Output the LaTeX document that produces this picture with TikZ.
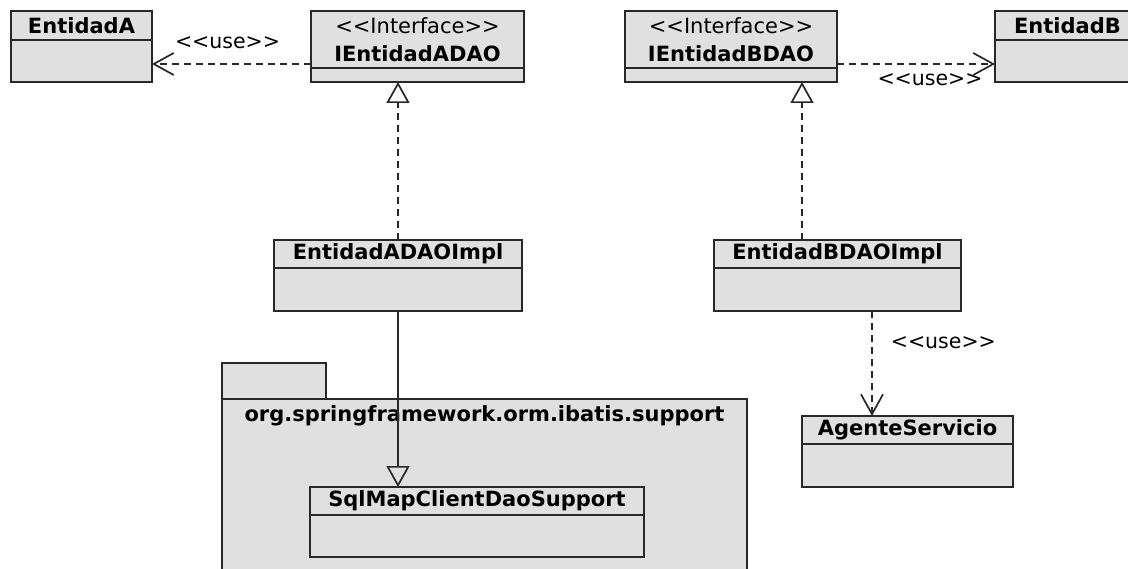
\documentclass[tikz,border=0pt]{standalone}
\usepackage{fontspec}
\setmainfont{DejaVu Sans}
\usetikzlibrary{arrows.meta,positioning}

\definecolor{umlfill}{RGB}{224,224,224}
\definecolor{umlline}{RGB}{40,40,40}
\newcommand{\umlstereo}[1]{<\kern0pt<#1>\kern0pt>}

\tikzset{
    umlhead/.style={draw=umlline, fill=umlfill, line width=1.7pt, outer sep=0pt, inner sep=0pt,
        font=\bfseries\fontsize{21}{28}\selectfont, align=center},
    umlbody/.style={draw=umlline, fill=umlfill, line width=1.7pt, outer sep=0pt, inner sep=0pt},
    umllabel/.style={inner sep=0pt, font=\fontsize{20.5}{24}\selectfont},
    usedep/.style={draw=umlline, line width=1.7pt, dash pattern=on 7pt off 5pt,
        -{Straight Barb[length=20pt, width=22pt, line width=1.7pt]}},
    realize/.style={draw=umlline, line width=1.7pt, dash pattern=on 7pt off 5pt,
        -{Triangle[open, length=21pt, width=23pt, line width=1.7pt]}},
    extend/.style={draw=umlline, line width=1.7pt,
        -{Triangle[open, length=21pt, width=23pt, line width=1.7pt]}},
}

\begin{document}
\begin{tikzpicture}[x=1pt, y=-1pt]
    \useasboundingbox (0,0) rectangle (1128,569);
    \clip (0,0) rectangle (1128,569);
    \fill[white] (0,0) rectangle (1128,569);

    % package org.springframework.orm.ibatis.support
    \node[umlbody, anchor=north west, minimum width=104pt, minimum height=36pt] (pkgtab) at (222,363) {};
    \node[umlbody, anchor=north west, minimum width=525pt, minimum height=200pt] (pkg) at (pkgtab.south west) {};
    \node[umllabel, font=\bfseries\fontsize{21}{24}\selectfont, below=6pt of pkg.north] (pkgname) {org.springframework.orm.ibatis.support};

    % entities
    \node[umlhead, anchor=north west, minimum width=141pt, minimum height=29pt] (entA) at (11,11) {EntidadA};
    \node[umlbody, below=0pt of entA, minimum width=141pt, minimum height=42pt] (entAbody) {};
    \node[umlhead, anchor=north west, minimum width=145pt, minimum height=29pt] (entB) at (995,11) {EntidadB};
    \node[umlbody, below=0pt of entB, minimum width=145pt, minimum height=42pt] (entBbody) {};

    % DAO interfaces
    \node[umlhead, anchor=north west, minimum width=213pt, minimum height=57pt] (ifaceA) at (311,11)
        {{\mdseries\umlstereo{Interface}}\\IEntidadADAO};
    \node[umlbody, below=0pt of ifaceA, minimum width=213pt, minimum height=14pt] (ifaceAbody) {};
    \node[umlhead, anchor=north west, minimum width=212pt, minimum height=57pt] (ifaceB) at (625,11)
        {{\mdseries\umlstereo{Interface}}\\IEntidadBDAO};
    \node[umlbody, below=0pt of ifaceB, minimum width=212pt, minimum height=14pt] (ifaceBbody) {};

    % DAO implementations
    \node[umlhead, anchor=north west, minimum width=248pt, minimum height=28pt] (implA) at (274,240) {EntidadADAOImpl};
    \node[umlbody, below=0pt of implA, minimum width=248pt, minimum height=43pt] (implAbody) {};
    \node[umlhead, anchor=north west, minimum width=247pt, minimum height=28pt] (implB) at (714,240) {EntidadBDAOImpl};
    \node[umlbody, below=0pt of implB, minimum width=247pt, minimum height=43pt] (implBbody) {};

    % support class and service
    \node[umlhead, anchor=north west, minimum width=334pt, minimum height=28pt] (sqlmap) at (310,487) {SqlMapClientDaoSupport};
    \node[umlbody, below=0pt of sqlmap, minimum width=334pt, minimum height=42pt] (sqlmapbody) {};
    \node[umlhead, anchor=north west, minimum width=211pt, minimum height=28pt] (agente) at (802,416) {AgenteServicio};
    \node[umlbody, below=0pt of agente, minimum width=211pt, minimum height=43pt] (agentebody) {};

    % <<use>> dependencies
    \draw[usedep] ([yshift=-24.5pt]ifaceA.west) -- ([yshift=-24.5pt]ifaceA.west -| entAbody.east)
        node[umllabel, midway, above=14pt, xshift=-4pt] (useA) {\umlstereo{use}};
    \draw[usedep] ([yshift=-24.5pt]ifaceB.east) -- ([yshift=-24.5pt]ifaceB.east -| entBbody.west)
        node[umllabel, midway, below=9pt, xshift=14pt] (useB) {\umlstereo{use}};
    \draw[usedep] ([xshift=158pt]implBbody.south west) -- ([xshift=158pt]implBbody.south west |- agente.north)
        node[umllabel, pos=0.3, right=18pt] (useAg) {\umlstereo{use}};

    % realizations
    \draw[realize] (implA.north) -- (implA.north |- ifaceAbody.south);
    \draw[realize] ([xshift=88pt]implB.north west) -- ([xshift=88pt]implB.north west |- ifaceBbody.south);

    % generalization
    \draw[extend] (implAbody.south) -- (implAbody.south |- sqlmap.north);
\end{tikzpicture}
\end{document}
